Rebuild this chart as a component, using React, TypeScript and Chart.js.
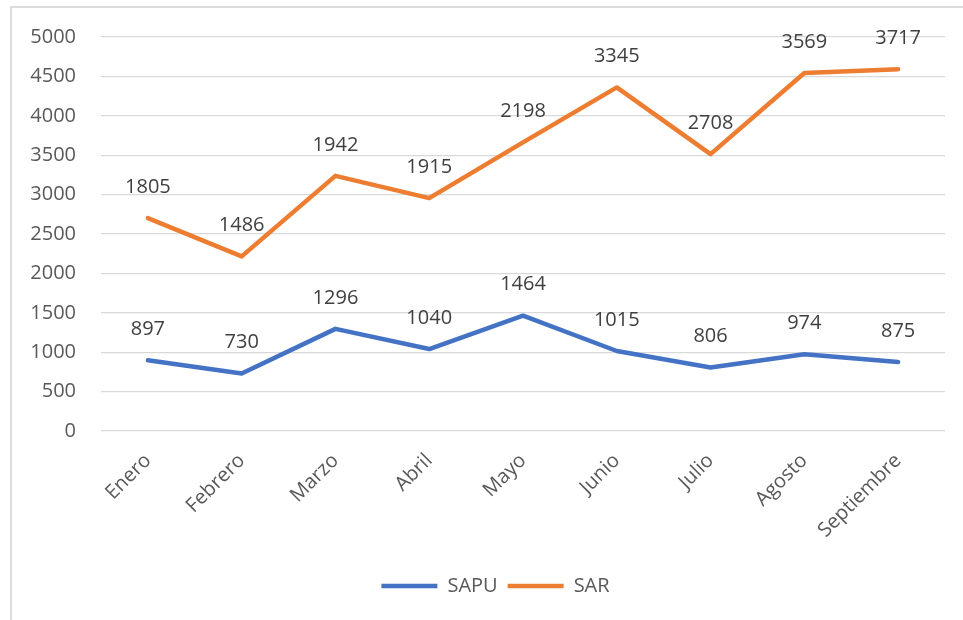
import React, { useEffect, useRef } from "react";
import { Chart, registerables } from "chart.js";

Chart.register(...registerables);

const categories = ["Enero", "Febrero", "Marzo", "Abril", "Mayo", "Junio", "Julio", "Agosto", "Septiembre"];
const sapuValues = [897, 730, 1296, 1040, 1464, 1015, 806, 974, 875];
const sarValues = [1805, 1486, 1942, 1915, 2198, 3345, 2708, 3569, 3717];
const yMin = 0;
const yMax = 5000;
const yStep = 500;

const FONT = "'Open Sans', 'Noto Sans', sans-serif";

const dataLabelPlugin = {
  id: "dataLabels",
  afterDatasetsDraw(chart: any) {
    const ctx = chart.ctx;
    ctx.save();
    ctx.font = `20px ${FONT}`;
    ctx.fillStyle = "#404040";
    ctx.textAlign = "center";
    ctx.textBaseline = "middle";
    chart.data.datasets.forEach((ds: any, di: number) => {
      const meta = chart.getDatasetMeta(di);
      meta.data.forEach((el: any, i: number) => {
        ctx.fillText(String(ds.data[i]), el.x, el.y - 31);
      });
    });
    ctx.restore();
  },
};

const legendShiftPlugin = {
  id: "legendShift",
  afterLayout(chart: any) {
    if (chart.legend) {
      chart.legend.left += 13;
      chart.legend.right += 13;
    }
  },
};

export default function App() {
  const ref = useRef<HTMLCanvasElement | null>(null);
  useEffect(() => {
    if (!ref.current) return;
    const chart = new Chart(ref.current, {
      type: "line",
      data: {
        labels: categories,
        datasets: [
          {
            label: "SAPU",
            data: sapuValues,
            borderColor: "#4472C4",
            backgroundColor: "#4472C4",
            borderWidth: 4.5,
            borderCapStyle: "round",
            borderJoinStyle: "round",
            pointRadius: 0,
            tension: 0,
            fill: false,
          },
          {
            label: "SAR",
            data: sarValues,
            borderColor: "#ED7D31",
            backgroundColor: "#ED7D31",
            borderWidth: 4.5,
            borderCapStyle: "round",
            borderJoinStyle: "round",
            pointRadius: 0,
            tension: 0,
            fill: false,
          },
        ],
      },
      options: {
        animation: false,
        responsive: false,
        maintainAspectRatio: false,
        layout: { padding: { left: 20, right: 18, top: 36, bottom: 14 } },
        plugins: {
          legend: {
            position: "bottom",
            labels: {
              usePointStyle: true,
              pointStyle: "line",
              pointStyleWidth: 56,
              padding: 10,
              color: "#595959",
              font: { family: FONT, size: 20 },
            },
          },
          tooltip: { enabled: false },
        },
        scales: {
          x: {
            offset: true,
            grid: { display: false, drawTicks: false },
            border: { display: false },
            ticks: {
              maxRotation: 45,
              minRotation: 45,
              padding: 18,
              color: "#595959",
              font: { family: FONT, size: 20 },
            },
            afterFit: (s: any) => {
              s.height = 135;
            },
          },
          y: {
            stacked: true,
            min: yMin,
            max: yMax,
            ticks: {
              stepSize: yStep,
              padding: 25,
              color: "#595959",
              font: { family: FONT, size: 20 },
              callback: (v: any) => String(v),
            },
            grid: { color: "#d9d9d9", lineWidth: 1.3, drawTicks: false },
            border: { display: false },
            afterFit: (s: any) => {
              s.width = 81;
            },
          },
        },
      },
      plugins: [dataLabelPlugin, legendShiftPlugin],
    });
    return () => chart.destroy();
  }, []);

  return (
    <div>
      <canvas
        ref={ref}
        width={963}
        height={620}
        style={{ position: "absolute", left: 0, top: 0, width: 963, height: 620 }}
      />
      <div
        style={{
          position: "absolute",
          left: 10,
          top: 6,
          width: 953,
          height: 614,
          borderLeft: "2px solid #dcdcdc",
          borderTop: "2px solid #dcdcdc",
          boxSizing: "border-box",
          pointerEvents: "none",
        }}
      />
    </div>
  );
}
